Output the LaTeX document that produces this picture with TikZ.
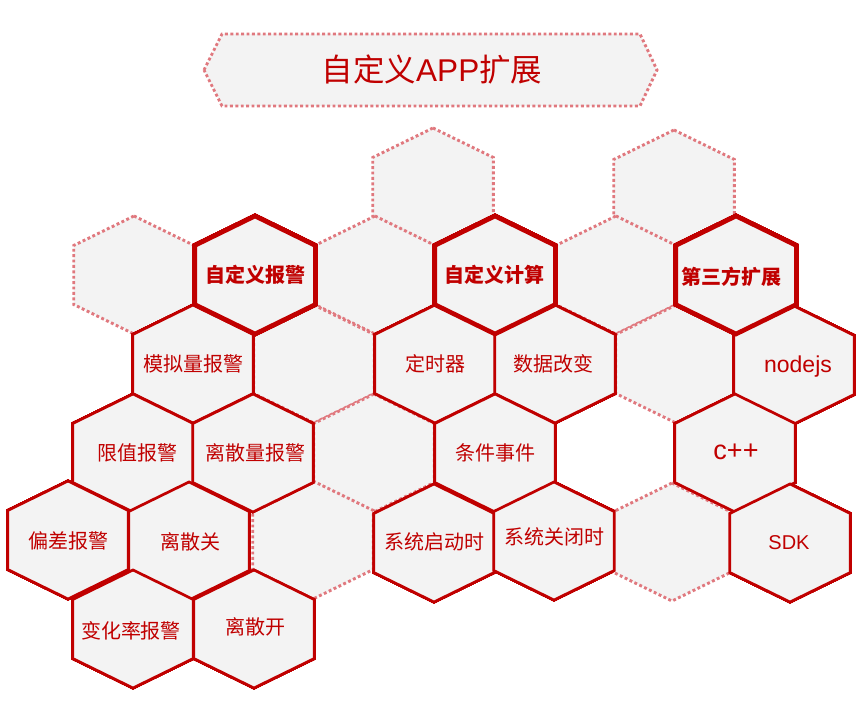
\documentclass[tikz,border=0pt]{standalone}
\usepackage{fontspec}
\setmainfont{Liberation Sans}
\newfontfamily\cjk{Noto Sans CJK SC}
\definecolor{hexred}{RGB}{192,0,0}
\definecolor{hexpink}{RGB}{224,120,126}
\definecolor{hexgrey}{RGB}{243,243,243}
% one hexagon cell: style, centre
\newcommand{\hexcell}[2]{\draw[#1] (#2) ++(0,-59) -- ++(60.3,29.5) -- ++(0,59) -- ++(-60.3,29.5) -- ++(-60.3,-29.5) -- ++(0,-59) -- cycle;}
\begin{document}
\begin{tikzpicture}[x=1pt,y=-1pt,
	hexdot/.style={draw=hexpink, fill=hexgrey, line width=2.9pt, dash pattern=on 2.9pt off 2.5pt},
	hexsub/.style={draw=hexred, fill=hexgrey, line width=2.7pt},
	hexmain/.style={draw=hexred, fill=hexgrey, line width=4.6pt},
	subtext/.style={text=hexred, font=\cjk\fontsize{20}{24}\selectfont},
	maintext/.style={text=hexred, font=\cjk\bfseries\fontsize{20}{24}\selectfont},
	lattext/.style={text=hexred, font=\fontsize{#1}{#1}\selectfont}]
	\useasboundingbox (0,0) rectangle (863,701);
	% title
	\draw[hexdot] (204,70) -- (222,34) -- (640,34) -- (657,70) -- (640,106) -- (222,106) -- cycle;
	\node[text=hexred, font=\fontsize{31.5}{36}\selectfont] (title) at (432,69) {{\cjk 自定义}APP{\cjk 扩展}};
	% empty dotted cells
	\foreach \c in {{433,187},{674,189},{134,275},{375,275},{616,275},{314,364},{676,364},{374,453},{313,540},{672,542}}
		\hexcell{hexdot}{\c}
	% items
	\hexcell{hexsub}{193,364}
	\hexcell{hexsub}{133,453}
	\hexcell{hexsub}{253,453}
	\hexcell{hexsub}{68,540}
	\hexcell{hexsub}{189,541}
	\hexcell{hexsub}{133,629}
	\hexcell{hexsub}{254,629}
	\hexcell{hexsub}{435,364}
	\hexcell{hexsub}{555,364}
	\hexcell{hexsub}{495,453}
	\hexcell{hexsub}{434,543}
	\hexcell{hexsub}{554,541}
	\hexcell{hexsub}{794,365}
	\hexcell{hexsub}{735,453}
	\hexcell{hexsub}{790,543}
	% categories
	\hexcell{hexmain}{255,275}
	\hexcell{hexmain}{495,275}
	\hexcell{hexmain}{736,275}
	\node[maintext] (alarm) at (255,275) {自定义报警};
	\node[maintext] (calc) at (494,275) {自定义计算};
	\node[maintext] (third) at (731,277) {第三方扩展};
	\node[subtext] (analog) at (193,364) {模拟量报警};
	\node[subtext] (limit) at (137,453) {限值报警};
	\node[subtext] (discrete) at (255,453) {离散量报警};
	\node[subtext] (deviation) at (68,541) {偏差报警};
	\node[subtext] (dclose) at (190,542) {离散关};
	\node[subtext] (rate) at (131,631) {变化率报警};
	\node[subtext] (dopen) at (255,627) {离散开};
	\node[subtext] (timer) at (435,364) {定时器};
	\node[subtext] (change) at (553,364) {数据改变};
	\node[subtext] (event) at (495,453) {条件事件};
	\node[subtext] (startup) at (434,542) {系统启动时};
	\node[subtext] (shutdown) at (554,537) {系统关闭时};
	\node[lattext=23] (nodejs) at (798,367) {nodejs};
	\node[lattext=27] (cpp) at (736,452) {c++};
	\node[lattext=20] (sdk) at (789,543) {SDK};
\end{tikzpicture}
\end{document}
